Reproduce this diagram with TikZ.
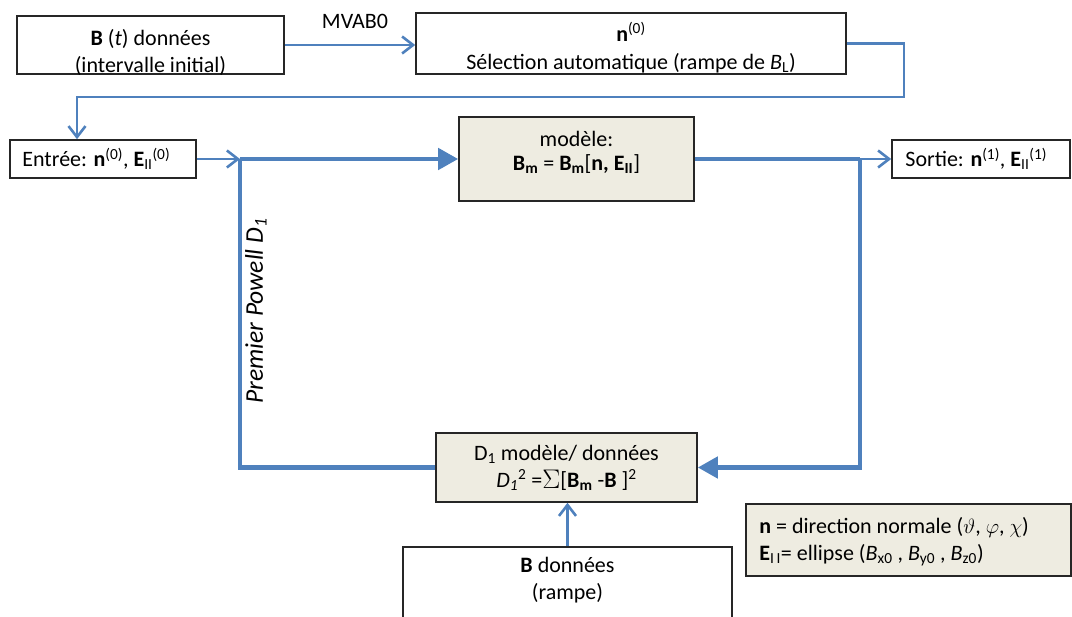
\documentclass[tikz,border=0pt]{standalone}
\usepackage{fontspec}
\usepackage{graphicx}
\setmainfont{Carlito}
\usetikzlibrary{arrows.meta,calc}
\definecolor{lblue}{HTML}{4F81BD}
\definecolor{beige}{HTML}{EEECE1}
\begin{document}
\begin{tikzpicture}[x=1pt,y=-1pt,
  font=\fontsize{22}{27}\selectfont,
  box/.style={draw=black!85, line width=1.6pt, fill=white, inner sep=0pt},
  mbox/.style={box, fill=beige},
  txt/.style={inner sep=0pt, align=center},
  thinl/.style={draw=lblue, line width=2.6pt},
  thickl/.style={draw=lblue, line width=4.6pt},
  barb/.style={-{Straight Barb[length=11pt,width=17pt]}},
  tri/.style={-{Triangle[length=20pt,width=21pt]}}]
\useasboundingbox (0,0) rectangle (1072,617);
\clip (0,0) rectangle (1072,617);

% boxes
\node[box, minimum width=267pt, minimum height=58pt] (b1) at (150.5,45) {};
\node[box, minimum width=430pt, minimum height=61pt] (b2) at (631,43.5) {};
\node[box, minimum width=186pt, minimum height=38pt] (entree) at (103,159) {};
\node[mbox, minimum width=235pt, minimum height=84pt] (model) at (576.5,159) {};
\node[box, minimum width=178pt, minimum height=38pt] (sortie) at (981,159) {};
\node[mbox, minimum width=261pt, minimum height=69pt] (d1) at (566.5,467.5) {};
\node[box, minimum width=329pt, minimum height=93pt] (bdon) at (567.5,593.5) {};
\node[mbox, minimum width=325pt, minimum height=72pt] (legend) at (908.5,540) {};

% texts
\node[txt] (b1t) at ($(b1.center)+(0,7)$) {\textbf{B} (\textit{t}) données\\(intervalle initial)};
\node[txt, font=\fontsize{22}{28}\selectfont] (b2t) at ($(b2.center)+(0,4)$) {\textbf{n}\textsuperscript{(0)}\\Sélection automatique (rampe de \textit{B}\textsubscript{L})};
\node[txt, font=\fontsize{22}{24}\selectfont] (modelt) at ($(model.center)+(0,-7)$) {modèle:\\\textbf{B\textsubscript{m}} = \textbf{B\textsubscript{m}}[\textbf{n, E\textsubscript{II}}]};
\node[txt, anchor=west] (entreet) at ($(entree.west)+(13,0)$) {Entrée: \textbf{n}\textsuperscript{(0)}, \textbf{E}\textsubscript{II}\textsuperscript{(0)}};
\node[txt, anchor=west] (sortiet) at ($(sortie.west)+(14,0)$) {Sortie: \textbf{n}\textsuperscript{(1)}, \textbf{E}\textsubscript{II}\textsuperscript{(1)}};
\node[txt] (d1t) at (d1.center) {D\textsubscript{1} modèle/ données\\\textit{D}\textsubscript{\textit{1}}\textsuperscript{2} =\raisebox{-1.5pt}{\scalebox{1.3}{$\Sigma$}}[\textbf{B\textsubscript{m}} -\textbf{B} ]\textsuperscript{2}};
\node[txt] (bdont) at (567.5,580) {\textbf{B} données\\(rampe)};
\node[txt, anchor=west, align=left] (legendt) at ($(legend.west)+(14,1.5)$) {\textbf{n} = direction normale ($\vartheta$, $\varphi$, $\chi$)\\\textbf{E}\textsubscript{I\,I}= ellipse (\textit{B}\textsubscript{x0} , \textit{B}\textsubscript{y0} , \textit{B}\textsubscript{z0})};
\node[txt] (mvab) at (355,21) {MVAB0};
\node[txt, rotate=90, font=\fontsize{25.5}{27}\selectfont\itshape] (powell) at (256,311) {Premier Powell D\textsubscript{1}};

% junctions
\coordinate (loopR) at (904,97);
\coordinate (loopL) at (77,97);
\coordinate (jin) at (240,159);
\coordinate (jout) at (860,159);

% connectors
\draw[thinl, barb] (b1.east) -- (b2.west |- b1.east);
\draw[thinl, barb] (b2.east) -| (loopR) -- (loopL) -- (loopL |- entree.north);
\draw[thinl, barb] (entree.east) -- (jin);
\draw[thickl, tri] (jin) -- (model.west);
\draw[thickl] (model.east) -- (jout);
\draw[thinl, barb] (jout) -- (sortie.west);
\draw[thickl] (jin) |- (d1.west);
\draw[thickl, tri] (jout) |- (d1.east);
\draw[thinl, barb] (bdon.north) -- (bdon.north |- d1.south);
\end{tikzpicture}
\end{document}
